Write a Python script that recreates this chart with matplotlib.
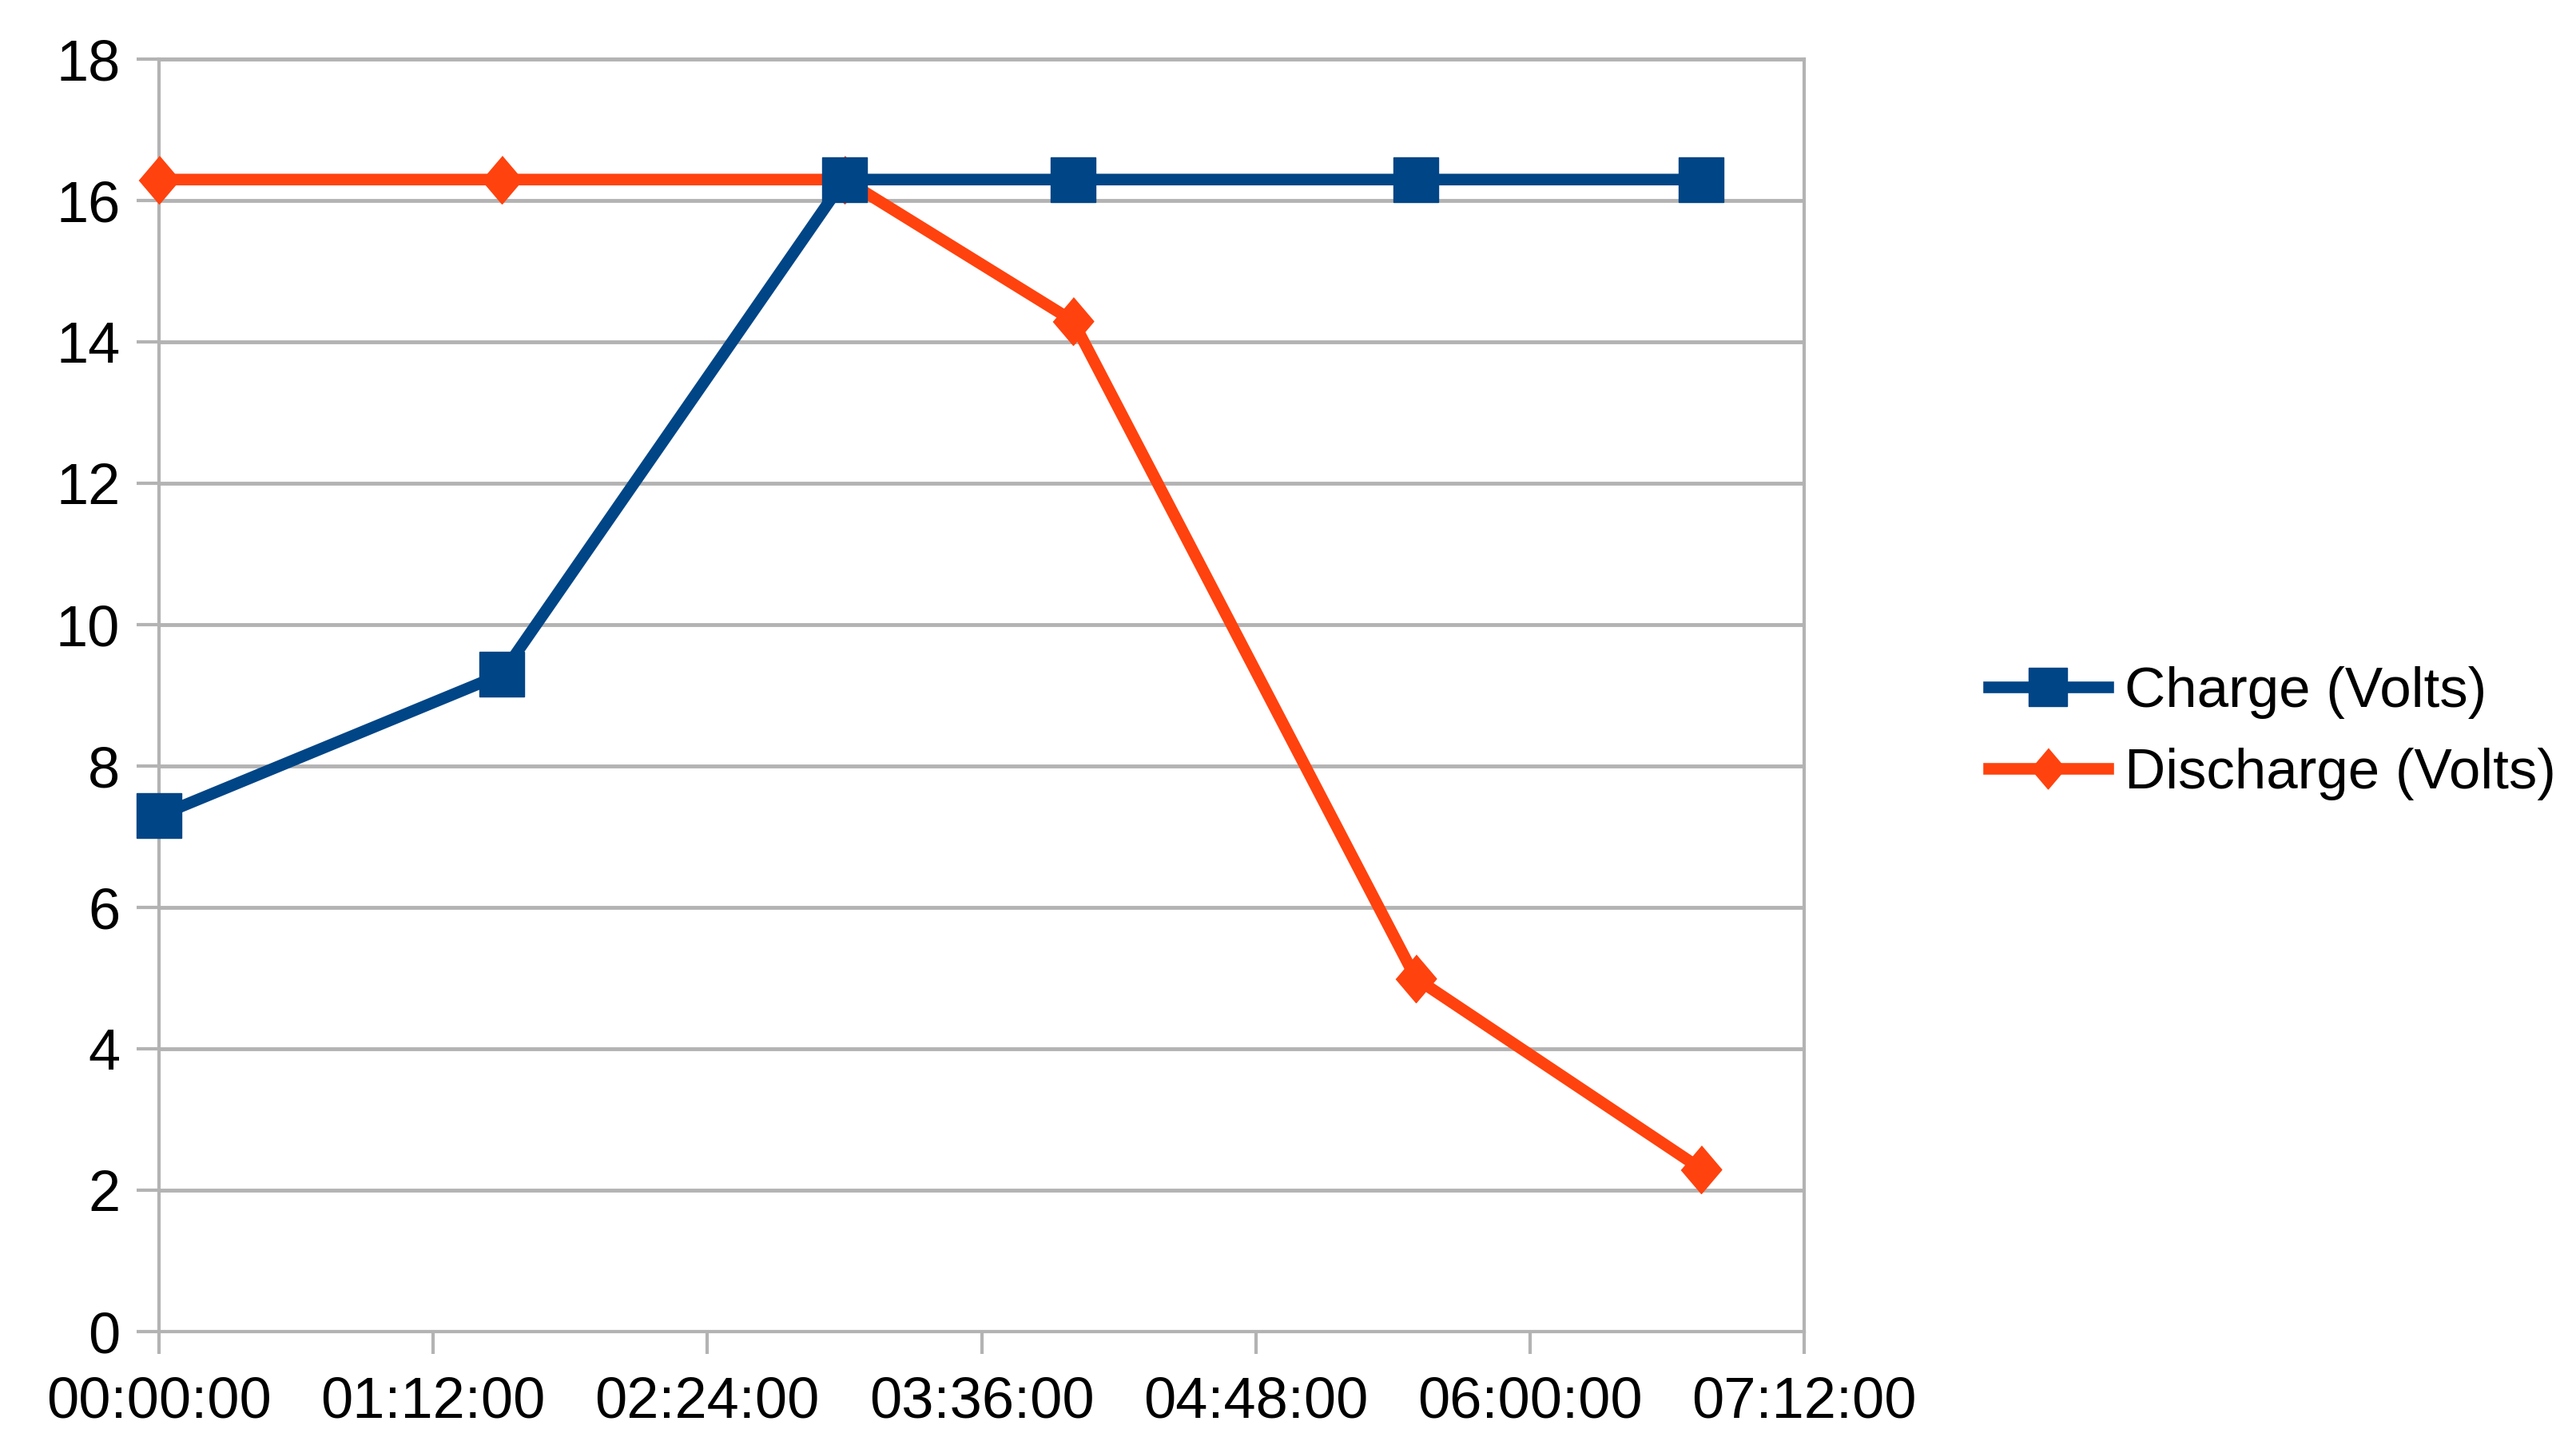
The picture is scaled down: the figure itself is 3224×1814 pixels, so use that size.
#!/usr/bin/env python3
# -*- coding: utf-8 -*-

import matplotlib
matplotlib.use("Agg")
import matplotlib.pyplot as plt
from matplotlib.ticker import FuncFormatter, MultipleLocator

###############################################################################
# Data
###############################################################################

times = ["00:00:00", "01:30:00", "03:00:00", "04:00:00", "05:30:00", "06:45:00"]
charge_volts = [7.3, 9.3, 16.3, 16.3, 16.3, 16.3]
discharge_volts = [16.3, 16.3, 16.3, 14.3, 5.0, 2.3]

series_labels = ["Charge (Volts)", "Discharge (Volts)"]


def to_minutes(t):
    h, m, s = [int(v) for v in t.split(":")]
    return h * 60 + m + s / 60.0


def fmt_hms(x, pos):
    total = int(round(x * 60))
    h, rem = divmod(total, 3600)
    m, s = divmod(rem, 60)
    return f"{h:02d}:{m:02d}:{s:02d}"


###############################################################################
# Plot
###############################################################################

plt.rcParams["font.family"] = ["Liberation Sans", "DejaVu Sans"]

BLUE = "#004586"
ORANGE = "#ff420e"
GRID = "#b3b3b3"

x_min = [to_minutes(t) for t in times]

fig = plt.figure(figsize=(32.24, 18.14), dpi=100)
ax = fig.add_axes([0.0617, 0.081, 0.6387, 0.878])

diamond = [(0, 1), (0.85, 0), (0, -1), (-0.85, 0)]

l_dis, = ax.plot(x_min, discharge_volts, color=ORANGE, lw=10.5,
                 marker=diamond, markersize=43, label=series_labels[1],
                 solid_joinstyle="miter", zorder=3, clip_on=False)
l_chg, = ax.plot(x_min, charge_volts, color=BLUE, lw=10.5,
                 marker="s", markersize=40, label=series_labels[0],
                 solid_joinstyle="miter", zorder=4, clip_on=False)

ax.set_xlim(0, 432)
ax.set_ylim(0, 18)
ax.xaxis.set_major_locator(MultipleLocator(72))
ax.xaxis.set_major_formatter(FuncFormatter(fmt_hms))
ax.yaxis.set_major_locator(MultipleLocator(2))

ax.grid(axis="y", color=GRID, lw=3.5, zorder=1)
ax.set_axisbelow(True)
for side in ["left", "right", "top", "bottom"]:
    ax.spines[side].set_color(GRID)
    ax.spines[side].set_linewidth(3.0)

ax.tick_params(axis="both", colors=GRID, width=3.0, length=20,
               labelsize=52, labelcolor="black")
ax.tick_params(axis="y", pad=15)
ax.tick_params(axis="x", pad=20)

fig.legend(handles=[l_chg, l_dis], loc="center left",
           bbox_to_anchor=(0.772, 0.494), frameon=False, fontsize=51,
           borderpad=0, borderaxespad=0, handlelength=2.1,
           handletextpad=0.3, labelspacing=0.5, markerscale=0.85)

fig.savefig("out.png", dpi=100)
